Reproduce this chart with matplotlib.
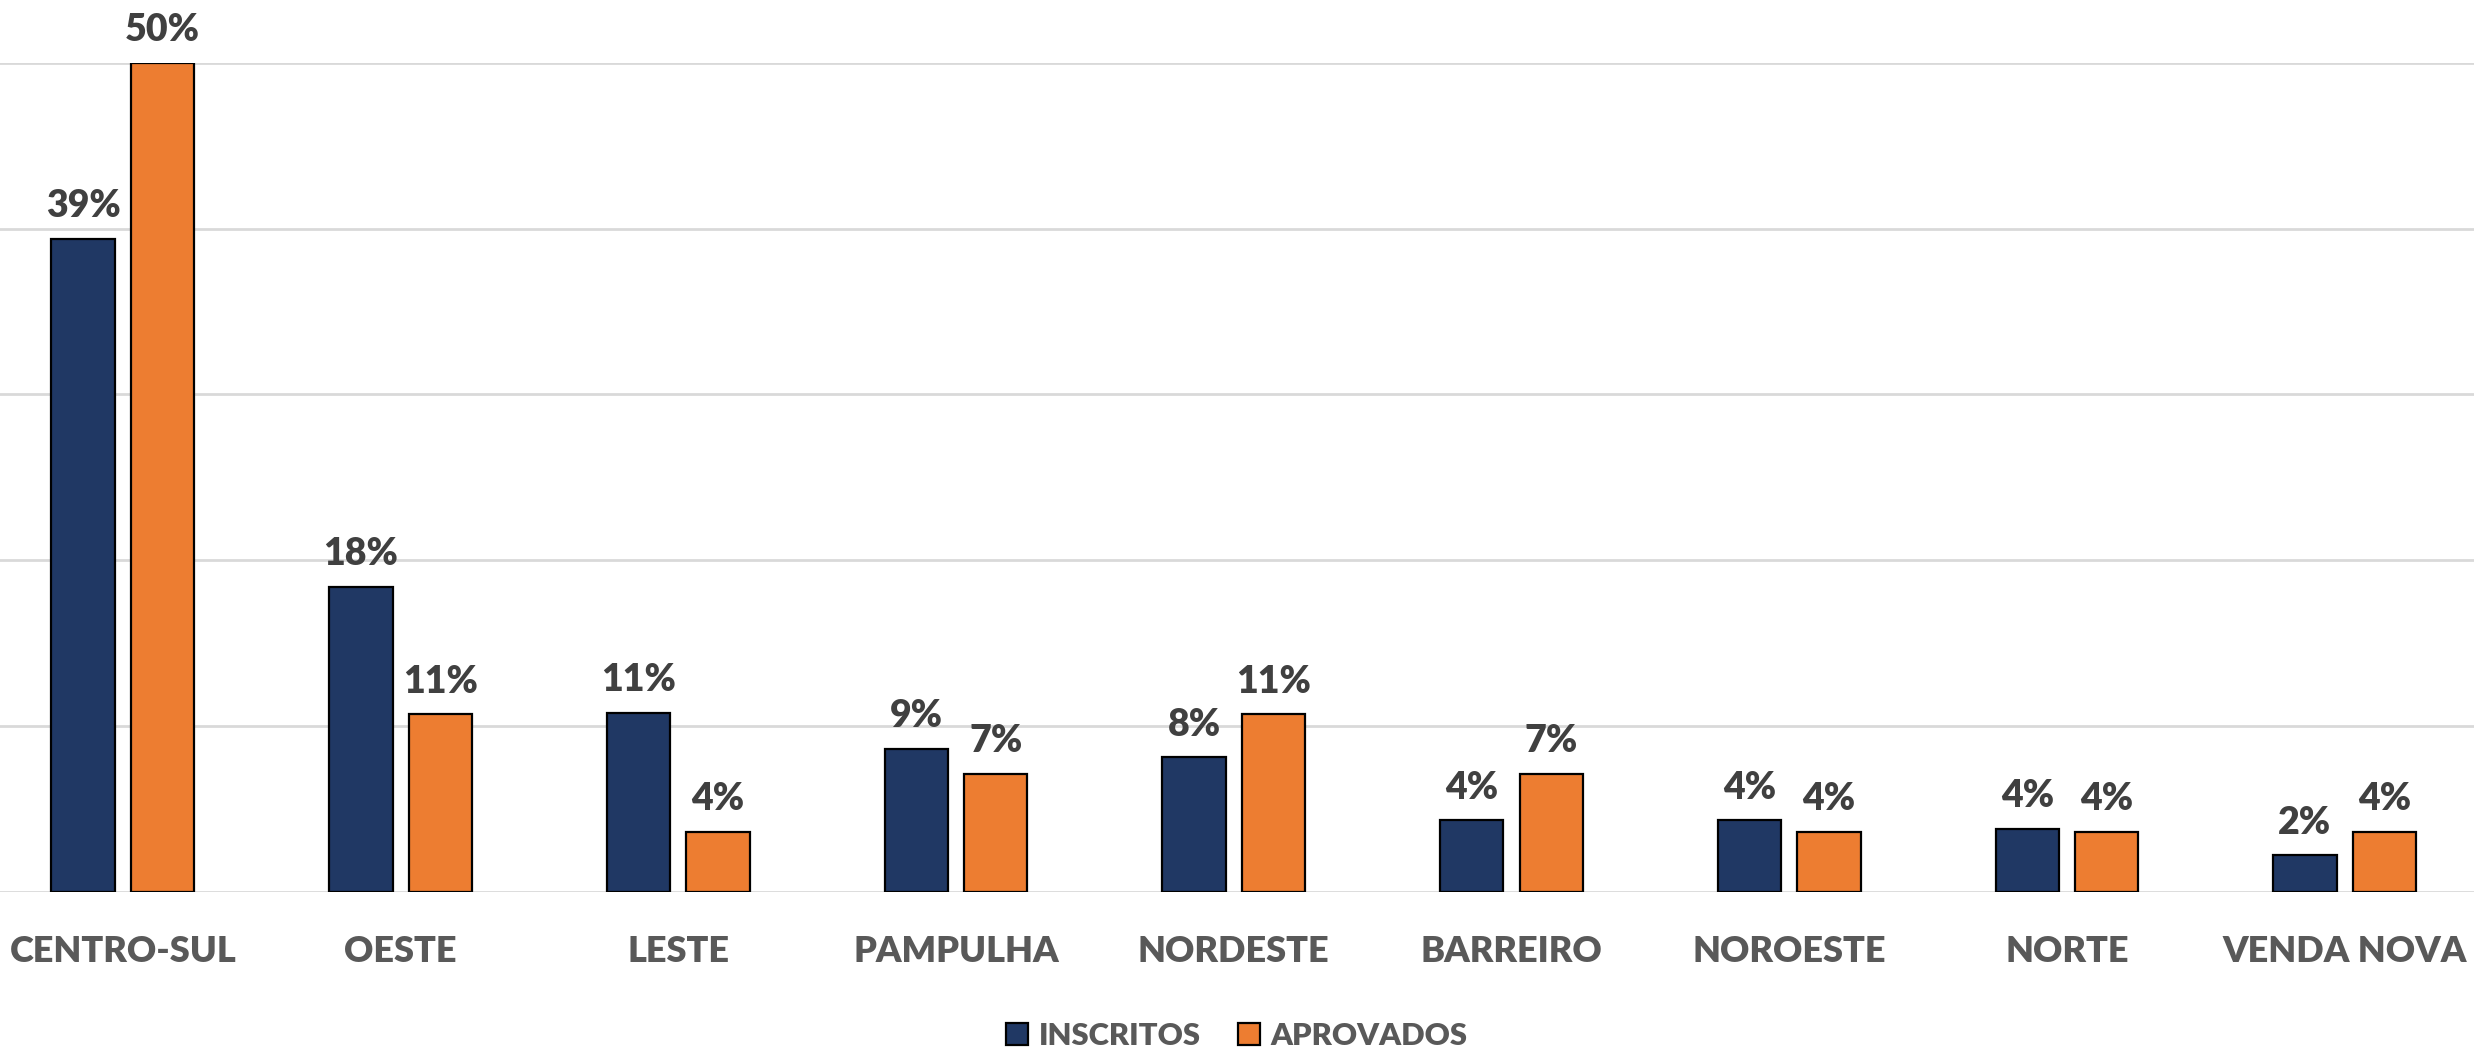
import matplotlib
matplotlib.use("Agg")
import matplotlib.pyplot as plt
import numpy as np

categories = ["CENTRO-SUL", "OESTE", "LESTE", "PAMPULHA", "NORDESTE",
              "BARREIRO", "NOROESTE", "NORTE", "VENDA NOVA"]
inscritos = [39.4, 18.4, 10.8, 8.6, 8.1, 4.3, 4.3, 3.8, 2.2]
aprovados = [50.0, 10.7, 3.6, 7.1, 10.7, 7.1, 3.6, 3.6, 3.6]
series_names = ["INSCRITOS", "APROVADOS"]
colors = ["#203864", "#ED7D31"]

FONT = ["Lato", "DejaVu Sans"]
WEIGHT = 800
W, H = 2474, 1047
fig = plt.figure(figsize=(W / 100, H / 100), dpi=100)
ax = fig.add_axes([-16 / W, 1 - 891.5 / H, 2499.5 / W, (891.5 - 63) / H])

x = np.arange(len(categories))
bw = 0.228
off = 0.143
vals = [inscritos, aprovados]
for i, (v, c, name) in enumerate(zip(vals, colors, series_names)):
    xs = x + (-off if i == 0 else off)
    bars = ax.bar(xs, v, width=bw, color=c, edgecolor="black", linewidth=1.6,
                  label=name, zorder=3)
    for b, val in zip(bars, v):
        ax.annotate(f"{round(val):d}%", (b.get_x() + b.get_width() / 2, val),
                    xytext=(0, 15.5), textcoords="offset points",
                    ha="center", va="baseline", fontsize=27, fontweight=WEIGHT,
                    color="#404040", family=FONT, annotation_clip=False)

ax.set_xlim(-0.5, len(categories) - 0.5)
ax.set_ylim(0, 50)
ax.set_yticks([0, 10, 20, 30, 40, 50])
ax.yaxis.grid(True, color="#D9D9D9", linewidth=2, zorder=0)
ax.tick_params(axis="y", left=False, labelleft=False)
ax.set_xticks(x)
ax.set_xticklabels(categories, fontsize=26, fontweight=WEIGHT, color="#595959",
                   family=FONT)
ax.tick_params(axis="x", bottom=False, pad=28)
for s in ax.spines.values():
    s.set_visible(False)

leg = fig.legend(loc="center", bbox_to_anchor=(0.5, 1 - 1036 / H), ncol=2,
                 frameon=False, handlelength=0.7, handleheight=0.7,
                 handletextpad=0.35, columnspacing=1.2,
                 prop={"family": FONT, "weight": WEIGHT, "size": 22.3})
for t in leg.get_texts():
    t.set_color("#595959")

fig.savefig("out.png", dpi=100, facecolor="white")
